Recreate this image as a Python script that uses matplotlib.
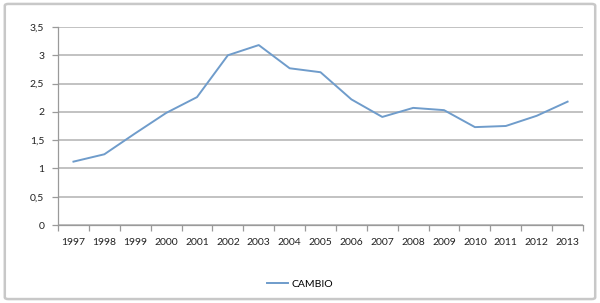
import matplotlib
matplotlib.use("Agg")
from matplotlib import pyplot as plt
from matplotlib.patches import FancyBboxPatch

# Data
years = ["1997", "1998", "1999", "2000", "2001", "2002", "2003", "2004", "2005",
         "2006", "2007", "2008", "2009", "2010", "2011", "2012", "2013"]
cambio = [1.12, 1.25, 1.62, 1.98, 2.26, 3.00, 3.18, 2.77, 2.70,
          2.22, 1.91, 2.07, 2.03, 1.73, 1.75, 1.93, 2.18]
y_ticks = [0, 0.5, 1, 1.5, 2, 2.5, 3, 3.5]
y_labels = ["0", "0,5", "1", "1,5", "2", "2,5", "3", "3,5"]

plt.rcParams["font.family"] = ["Lato", "DejaVu Sans"]

fig = plt.figure(figsize=(6, 3.03), dpi=100)
ax = fig.add_axes([0.0967, 0.2574, 0.875, 0.6536])

# Outer frame of the chart
frame = FancyBboxPatch((0.008, 0.013), 0.984, 0.974, boxstyle="round,pad=0,rounding_size=0.006",
                       transform=fig.transFigure, facecolor="none", edgecolor="#c8c8c8",
                       linewidth=1.8, zorder=0)
fig.patches.append(frame)

x = list(range(len(years)))
ax.plot(x, cambio, color="#6f9ccb", linewidth=1.4, label="CAMBIO", zorder=3)

ax.set_xlim(-0.5, len(years) - 0.5)
ax.set_ylim(0, 3.5)

# Horizontal gridlines
ax.set_yticks(y_ticks)
ax.set_yticklabels(y_labels)
ax.yaxis.grid(True, color="#bdbdbd", linewidth=1.3)
ax.set_axisbelow(True)

# Category labels at centres, tick marks at boundaries
ax.set_xticks(x)
ax.set_xticklabels(years)
ax.set_xticks([i - 0.5 for i in range(len(years) + 1)], minor=True)
ax.tick_params(axis="x", which="major", length=0, pad=9, labelsize=7.5, labelcolor="#222222")
ax.tick_params(axis="x", which="minor", length=4, color="#9a9a9a", width=0.9)
ax.tick_params(axis="y", length=4, color="#9a9a9a", width=0.9, labelsize=7.5,
               labelcolor="#222222", pad=6)

for side in ["top", "right"]:
    ax.spines[side].set_visible(False)
ax.spines["left"].set_color("#9a9a9a")
ax.spines["bottom"].set_color("#9a9a9a")
ax.spines["left"].set_linewidth(0.9)
ax.spines["bottom"].set_linewidth(0.9)

fig.legend(loc="center", bbox_to_anchor=(0.5, 0.063), frameon=False, fontsize=7.5,
           handlelength=2.0, handletextpad=0.3)

fig.savefig("out.png", dpi=100)
plt.close(fig)
